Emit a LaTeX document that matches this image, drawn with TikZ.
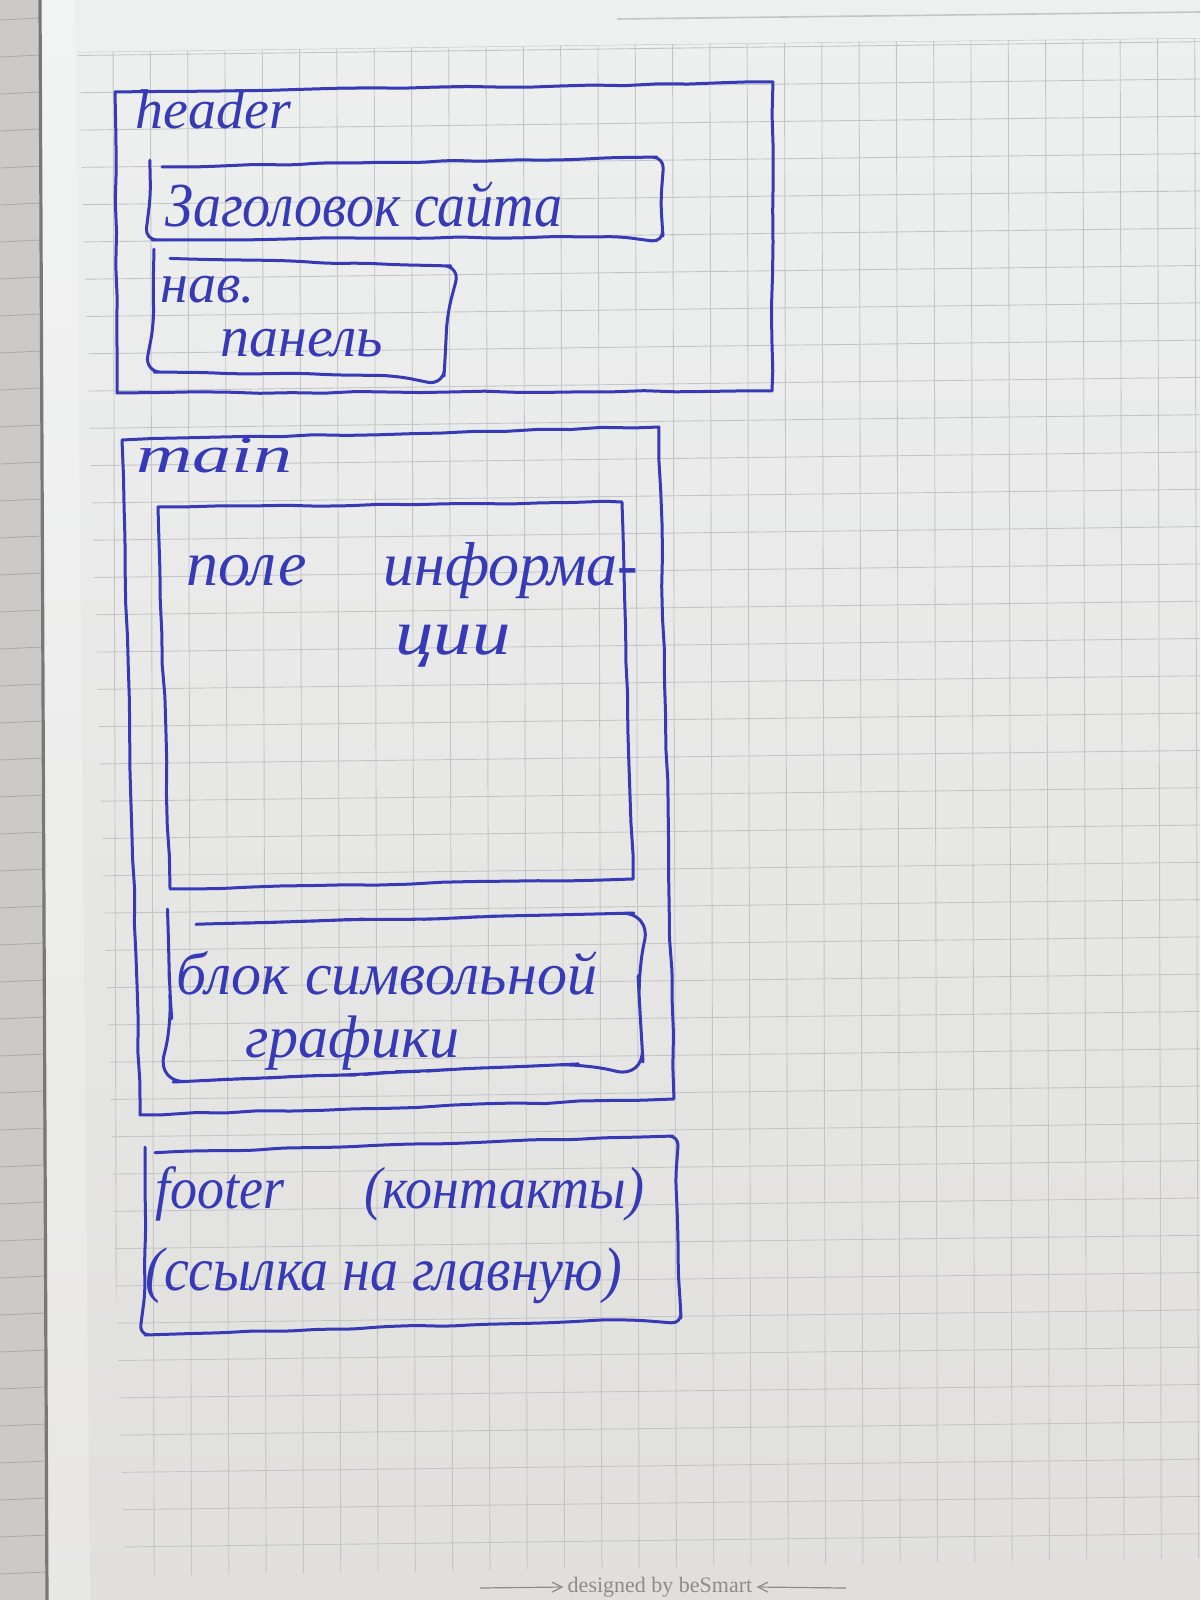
\documentclass[tikz,border=0pt]{standalone}
\usepackage{fontspec}
\usepackage{graphicx}
\newfontfamily\hand{Liberation Serif}
\newfontfamily\printfont{Liberation Serif}
\usetikzlibrary{decorations.pathmorphing,arrows.meta}
\definecolor{ink}{RGB}{54,58,182}
\definecolor{papertop}{RGB}{238,240,240}
\definecolor{paperlow}{RGB}{224,223,220}
\definecolor{gridline}{RGB}{196,197,198}
\definecolor{leaf}{RGB}{204,202,198}
\definecolor{leafline}{RGB}{170,169,166}
\definecolor{spine}{RGB}{120,120,122}
\definecolor{printgray}{RGB}{140,140,140}
\tikzset{
  pen/.style={draw=ink, line width=1.5pt, line cap=round, line join=round,
    decorate, decoration={random steps, segment length=16pt, amplitude=0.5pt}},
  hand/.style={font=\hand\itshape\fontsize{#1}{#1}\selectfont, text=ink,
    inner sep=0pt, anchor=base west},
  grid line/.style={draw=gridline, line width=0.45pt},
  printed/.style={font=\printfont\fontsize{11}{13}\selectfont, text=printgray, inner sep=2pt},
}
\begin{document}
\begin{tikzpicture}[x=0.5pt,y=-0.5pt]
\pgfmathsetseed{11}
\useasboundingbox (0,0) rectangle (1200,1600);

% paper
\shade[top color=papertop, bottom color=paperlow] (0,0) rectangle (1200,1600);
% edge of the facing page and the spine
\fill[leaf] (0,0) -- (40,0) -- (47,1600) -- (0,1600) -- cycle;
\foreach \k in {0,...,43}
  \draw[leafline, line width=0.4pt] (0,{20+37*\k}) -- ({40+0.0044*(20+37*\k)},{18+37*\k});
\draw[spine, line width=1.6pt] (40,0) -- (47,1600);
\fill[white, opacity=0.25] (42,0) -- (75,0) -- (90,1600) -- (49,1600) -- cycle;

% printed line at the top right
\draw[gridline, line width=0.8pt] (617,19) -- (1200,12);

% squared grid
\begin{scope}
  \clip (78,52) -- (600,45) -- (1200,38) -- (1200,1558) -- (125,1576) -- cycle;
  \foreach \k in {-1,...,29}
    \draw[grid line] ({113+37.3*\k},20) -- ({113+37.3*\k+4},1600);
  \foreach \k in {-2,...,40}
    \draw[grid line] (60,{93+37.3*\k}) -- (1200,{93+37.3*\k-14});
  \draw[grid line] (78,52) -- (600,45) -- (1200,38);
\end{scope}

% header block
\coordinate (hTL) at (115,92);
\coordinate (hTM) at (560,86);
\coordinate (hTR) at (773,82);
\coordinate (hBR) at (772,391);
\coordinate (hBL) at (117,393);
\draw[pen] (hTL) -- (hTM) -- (hTR) -- (hBR) -- (hBL) -- cycle;
\node[hand=28] (tHeader) at (135,128) {header};

\coordinate (sTL) at (150,167);
\coordinate (sTR) at (657,157);
\coordinate (sBR) at (663,236);
\coordinate (sBL) at (152,240);
\draw[pen, rounded corners=6pt] (sTL) -- (sTR) -- (sBR) -- (sBL) -- cycle;
\node[hand=28] (tTitle) at (165,226) {\scalebox{1}[1.12]{Заголовок сайта}};

\coordinate (nTL) at (154,258);
\coordinate (nTR) at (451,266);
\coordinate (nBR) at (444,376);
\coordinate (nBL) at (154,372);
\draw[pen, rounded corners=8pt] (nTL) -- (nTR) -- (nBR) -- (nBL) -- cycle;
\node[hand=28] (tNav) at (160,302) {нав.};
\node[hand=29] (tPanel) at (220,356) {панель};

% main block
\coordinate (mTL) at (122,440);
\coordinate (mTR) at (659,427);
\coordinate (mBR) at (674,1099);
\coordinate (mBL) at (140,1115);
\draw[pen] (mTL) -- (mTR) -- (mBR) -- (mBL) -- cycle;
\node[hand=26] (tMain) at (136,472) {\scalebox{1.5}[1]{main}};

\coordinate (iTL) at (158,507);
\coordinate (iTR) at (622,502);
\coordinate (iBR) at (633,879);
\coordinate (iBL) at (170,889);
\draw[pen] (iTL) -- (iTR) -- (iBR) -- (iBL) -- cycle;
\node[hand=32] (tField) at (186,585) {поле};
\node[hand=31] (tInfo) at (383,585) {информа-};
\node[hand=32] (tInfoEnd) at (395,654) {\scalebox{1.2}[1]{ции}};

\coordinate (gTL) at (168,925);
\coordinate (gTR) at (634,913);
\coordinate (gBR) at (643,1062);
\coordinate (gBL) at (173,1082);
\draw[pen, rounded corners=14pt] (gTL) -- (gTR) -- (gBR) -- (gBL) -- cycle;
\node[hand=30] (tBlock) at (176,994) {блок символьной};
\node[hand=30] (tGraph) at (245,1057) {графики};

% footer block
\coordinate (fTL) at (145,1153);
\coordinate (fTR) at (673,1136);
\coordinate (fBR) at (681,1318);
\coordinate (fBL) at (145,1335);
\draw[pen, rounded corners=5pt] (fTL) -- (fTR) -- (fBR) -- (fBL) -- cycle;
\node[hand=27] (tFooter) at (155,1208) {\scalebox{1}[1.1]{footer}};
\node[hand=27] (tContacts) at (364,1208) {\scalebox{1}[1.1]{(контакты)}};
\node[hand=28] (tHome) at (145,1290) {\scalebox{1}[1.1]{(ссылка на главную)}};

% printed imprint at the bottom
\node[printed] (imprint) at (660,1587) {designed by beSmart};
\coordinate (arrL) at (480,1588);
\coordinate (arrR) at (846,1588);
\draw[printgray, line width=0.6pt, -{Straight Barb[length=5pt,width=5pt]}] (arrL) -- (imprint.west);
\draw[printgray, line width=0.6pt, -{Straight Barb[length=5pt,width=5pt]}] (arrR) -- (imprint.east);
\end{tikzpicture}
\end{document}
